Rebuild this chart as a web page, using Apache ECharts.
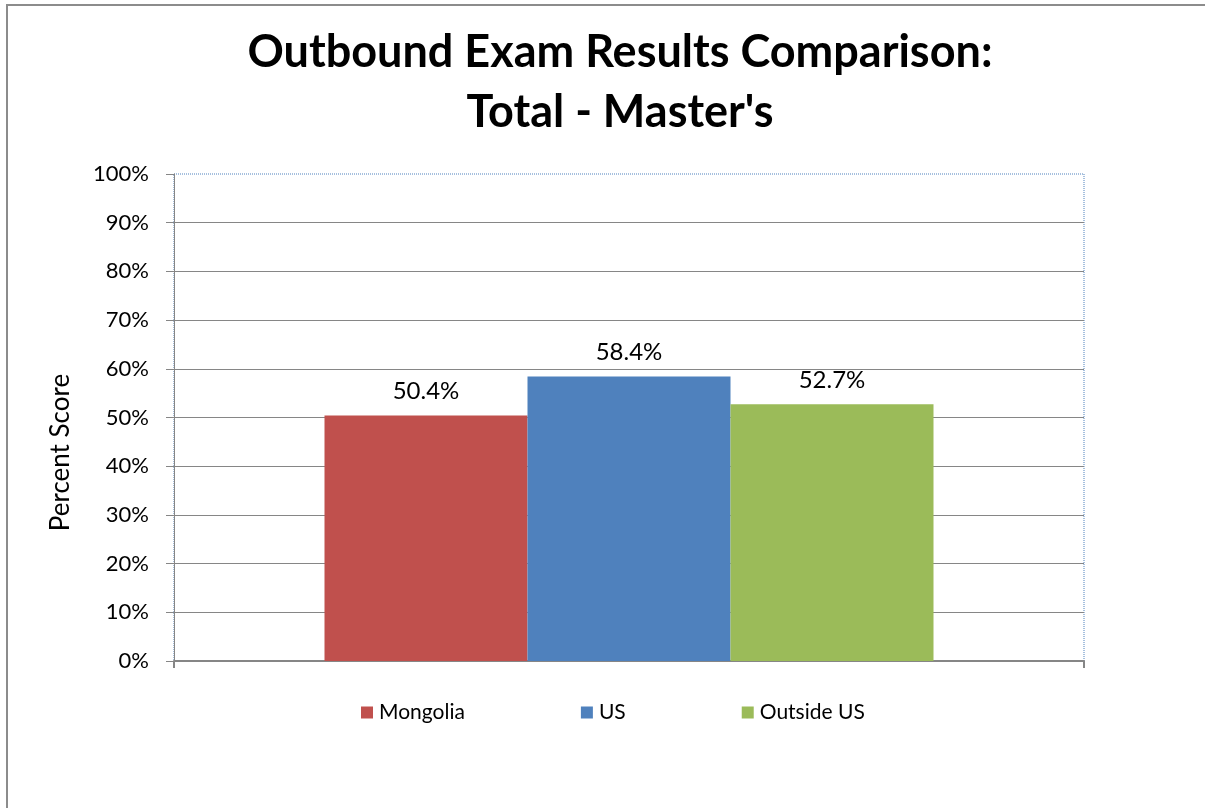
<!DOCTYPE html>
<html>
<head>
<meta charset="utf-8">
<script src="https://cdn.jsdelivr.net/npm/echarts@6/dist/echarts.min.js"></script>
<style>
  html, body { margin: 0; padding: 0; background: #fff; }
  #chart { width: 1205px; height: 808px; }
</style>
</head>
<body>
<div id="chart"></div>
<script>
const categories = ['']
const seriesNames = ['Mongolia', 'US', 'Outside US']
const seriesValues = [[50.4], [58.4], [52.7]]
const seriesColors = ['#C0504D', '#4F81BD', '#9BBB59']

const font = 'Lato, "Open Sans", sans-serif'
const myChart = echarts.init(document.getElementById('chart'))

myChart.setOption({
  backgroundColor: '#fff',
  animation: false,
  title: {
    text: 'Outbound Exam Results Comparison:\nTotal - Master\'s',
    left: 620,
    top: 22,
    padding: 0,
    textAlign: 'center',
    textStyle: {
      fontFamily: font,
      fontWeight: 'bold',
      fontSize: 45,
      lineHeight: 60,
      color: '#000'
    }
  },
  graphic: [{
    type: 'rect',
    shape: { x: 7, y: 5, width: 1300, height: 900 },
    style: { fill: 'none', stroke: '#8c8c8c', lineWidth: 2 },
    silent: true
  }],
  legend: {
    left: 356,
    top: 697,
    itemWidth: 12,
    itemHeight: 12,
    itemGap: 116,
    icon: 'rect',
    textStyle: { fontFamily: font, fontSize: 21, color: '#000', padding: [0, 0, 0, 1] },
    data: seriesNames
  },
  grid: {
    left: 174,
    right: 121,
    top: 174,
    bottom: 147,
    show: true,
    borderColor: '#4F81BD',
    borderWidth: 1,
    borderType: 'dotted'
  },
  xAxis: {
    type: 'category',
    data: categories,
    axisLine: { lineStyle: { color: '#868686', width: 2 } },
    axisTick: { show: true, length: 7, lineStyle: { color: '#868686', width: 2 } },
    axisLabel: { show: false }
  },
  yAxis: {
    type: 'value',
    min: 0,
    max: 100,
    interval: 10,
    name: 'Percent Score',
    nameLocation: 'middle',
    nameGap: 100,
    nameTextStyle: { fontFamily: font, fontSize: 26, color: '#000', padding: [0, 70, 0, 0] },
    axisLine: { show: true, lineStyle: { color: '#868686', width: 1 } },
    axisTick: { show: true, length: 8, lineStyle: { color: '#868686' } },
    axisLabel: {
      margin: 25,
      fontFamily: font,
      fontSize: 22,
      color: '#000',
      formatter: '{value}%'
    },
    splitLine: {
      show: true,
      showMaxLine: false,
      lineStyle: { color: '#868686', width: 1 }
    }
  },
  series: seriesNames.map((name, i) => ({
    name: name,
    type: 'bar',
    data: seriesValues[i],
    barWidth: 203,
    barGap: '0%',
    itemStyle: { color: seriesColors[i] },
    label: {
      show: true,
      position: 'top',
      distance: 12,
      fontFamily: font,
      fontSize: 24,
      color: '#000',
      formatter: p => p.value.toFixed(1) + '%'
    }
  }))
})
</script>
</body>
</html>
